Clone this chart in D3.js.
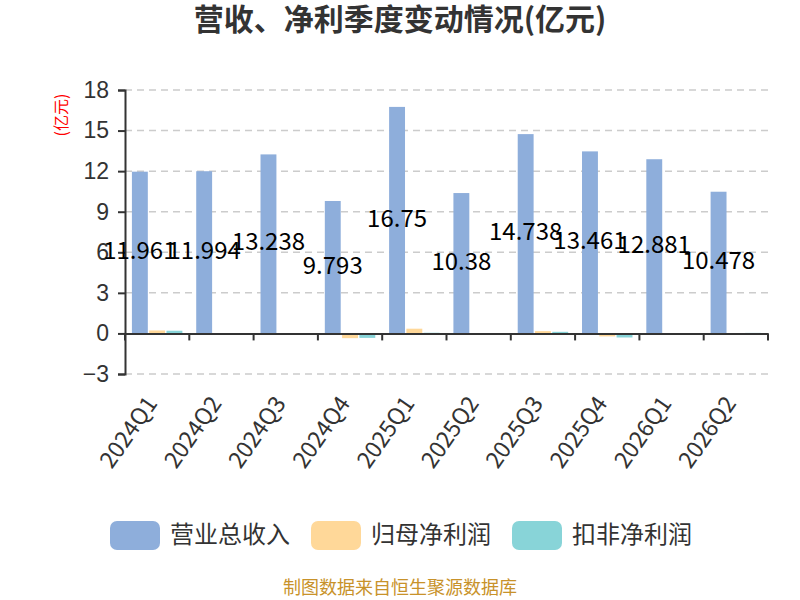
<!DOCTYPE html>
<html>
<head>
<meta charset="utf-8">
<script src="https://cdn.jsdelivr.net/npm/d3@7"></script>
<style>
  body { margin: 0; background: #fff; }
  svg { font-family: "Noto Sans CJK SC", "Noto Sans", sans-serif; }
</style>
</head>
<body>
<div id="chart"></div>
<script>
// Data
const quarters = ["2024Q1", "2024Q2", "2024Q3", "2024Q4", "2025Q1", "2025Q2", "2025Q3", "2025Q4", "2026Q1", "2026Q2"];
const revenue = [11.961, 11.994, 13.238, 9.793, 16.75, 10.38, 14.738, 13.461, 12.881, 10.478];
const netProfit = [0.22, 0.01, 0.02, -0.35, 0.35, 0.01, 0.17, -0.22, -0.08, 0.01];
const netProfitExcl = [0.2, 0.0, 0.01, -0.33, 0.05, 0.03, 0.12, -0.3, -0.02, 0.04];
const yTicks = [-3, 0, 3, 6, 9, 12, 15, 18];
const seriesNames = ["营业总收入", "归母净利润", "扣非净利润"];

const colours = ["#8eaedb", "#ffd899", "#88d4d8"];
const width = 800;
const height = 600;
const plot = {left: 125, right: 768, top: 90, bottom: 374};

const svg = d3.select("#chart")
  .append("svg")
    .attr("width", width)
    .attr("height", height);

// Scales
const xScale = d3.scaleBand()
  .domain(quarters)
  .range([plot.left, plot.right])
  .padding(0);

const innerScale = d3.scaleBand()
  .domain(seriesNames)
  .range([0, xScale.bandwidth()])
  .paddingInner(0.08)
  .paddingOuter(0.4);

const yScale = d3.scaleLinear()
  .domain([-3, 18])
  .range([plot.bottom, plot.top]);

// Grid lines
svg.append("g")
  .selectAll("line")
  .data(yTicks.filter(d => d !== 0))
  .join("line")
    .attr("x1", plot.left)
    .attr("x2", plot.right)
    .attr("y1", d => yScale(d))
    .attr("y2", d => yScale(d))
    .attr("stroke", "#cccccc")
    .attr("stroke-width", 1.5)
    .attr("stroke-dasharray", "7,5");

// Bars
const series = [revenue, netProfit, netProfitExcl];
series.forEach((values, i) => {
  svg.append("g")
    .selectAll("rect")
    .data(values)
    .join("rect")
      .attr("x", (d, j) => xScale(quarters[j]) + innerScale(seriesNames[i]))
      .attr("width", innerScale.bandwidth())
      .attr("y", d => yScale(Math.max(d, 0)))
      .attr("height", d => Math.abs(yScale(d) - yScale(0)))
      .attr("fill", colours[i]);
});

// Left axis
const leftAxis = d3.axisLeft(yScale)
  .tickValues(yTicks)
  .tickSize(7)
  .tickPadding(9);
const yAxisG = svg.append("g")
  .attr("transform", `translate(${plot.left}, 0)`)
  .call(leftAxis);
yAxisG.select(".domain").attr("stroke", "#333").attr("stroke-width", 2);
yAxisG.selectAll(".tick line").attr("stroke", "#333").attr("stroke-width", 2);
yAxisG.selectAll(".tick text")
  .style("font-size", "23px")
  .style("font-family", "inherit")
  .attr("fill", "#333");

// Bottom axis on zero
const bottomAxis = d3.axisBottom(xScale).tickSize(0).tickFormat("");
const xAxisG = svg.append("g")
  .attr("transform", `translate(0, ${yScale(0)})`)
  .call(bottomAxis);
xAxisG.select(".domain").attr("stroke", "#333").attr("stroke-width", 2);
xAxisG.selectAll(".tick").remove();
xAxisG.selectAll(".boundary")
  .data(quarters.concat(["end"]))
  .join("line")
    .attr("x1", (d, i) => plot.left + i * xScale.step())
    .attr("x2", (d, i) => plot.left + i * xScale.step())
    .attr("y1", 0)
    .attr("y2", 7)
    .attr("stroke", "#333")
    .attr("stroke-width", 2);

// Category labels, rotated, below the plot
svg.append("g")
  .selectAll("text")
  .data(quarters)
  .join("text")
    .text(d => d)
    .attr("transform", d => `translate(${xScale(d) + xScale.bandwidth() / 2 - 4}, ${plot.bottom + 26}) rotate(-55)`)
    .attr("text-anchor", "end")
    .attr("dominant-baseline", "middle")
    .attr("fill", "#333")
    .style("font-size", "23px");

// Value labels on revenue bars
svg.append("g")
  .selectAll("text")
  .data(revenue)
  .join("text")
    .text(d => d)
    .attr("x", (d, j) => xScale(quarters[j]) + innerScale(seriesNames[0]) + innerScale.bandwidth() / 2)
    .attr("y", d => (yScale(d) + yScale(0)) / 2)
    .attr("text-anchor", "middle")
    .attr("dominant-baseline", "middle")
    .attr("fill", "#000")
    .style("font-size", "24px");

// Y axis unit
svg.append("text")
  .text("(亿元)")
  .attr("transform", "translate(63, 115) rotate(-90)")
  .attr("text-anchor", "middle")
  .attr("dominant-baseline", "middle")
  .attr("fill", "red")
  .style("font-size", "16px");

// Title
svg.append("text")
  .text("营收、净利季度变动情况(亿元)")
  .attr("x", 400)
  .attr("y", 22)
  .attr("text-anchor", "middle")
  .attr("dominant-baseline", "middle")
  .attr("fill", "#333")
  .style("font-size", "30px")
  .style("font-weight", "bold");

// Legend
const legendX = [110, 311, 512];
const legend = svg.append("g")
  .selectAll("g")
  .data(seriesNames)
  .join("g")
    .attr("transform", (d, i) => `translate(${legendX[i]}, 521)`);
legend.append("rect")
  .attr("width", 50)
  .attr("height", 29)
  .attr("rx", 7)
  .attr("fill", (d, i) => colours[i]);
legend.append("text")
  .text(d => d)
  .attr("x", 60)
  .attr("y", 15)
  .attr("dominant-baseline", "middle")
  .attr("fill", "#333")
  .style("font-size", "24px");

// Source note
svg.append("text")
  .text("制图数据来自恒生聚源数据库")
  .attr("x", 400)
  .attr("y", 589)
  .attr("text-anchor", "middle")
  .attr("dominant-baseline", "middle")
  .attr("fill", "#c8922a")
  .style("font-size", "18px");
</script>
</body>
</html>
